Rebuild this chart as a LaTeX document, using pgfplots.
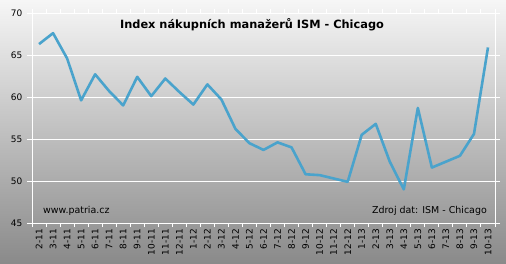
\documentclass[border=0pt]{standalone}
\usepackage{fontspec}
\setmainfont{DejaVu Sans}
\usepackage{pgfplots}
\pgfplotsset{compat=1.18}
\definecolor{topc}{HTML}{F6F6F6}
\definecolor{botc}{HTML}{8A8A8A}
\definecolor{linec}{HTML}{4AA3CC}
\begin{document}
\begin{tikzpicture}[x=1bp,y=1bp]
\path[use as bounding box] (0,0) rectangle (506,263);
\shade[top color=topc,bottom color=botc] (0,0) rectangle (506,263);
\begin{axis}[
  at={(32bp,40bp)}, anchor=south west,
  scale only axis, width=463bp, height=210bp,
  xmin=-0.5, xmax=32.5, ymin=45, ymax=70,
  ytick={45,50,55,60,65,70},
  xtick={0,...,32},
  xticklabels={2-11,3-11,4-11,5-11,6-11,7-11,8-11,9-11,10-11,11-11,12-11,1-12,2-12,3-12,4-12,5-12,6-12,7-12,8-12,9-12,10-12,11-12,12-12,1-13,2-13,3-13,4-13,5-13,6-13,7-13,8-13,9-13,10-13},
  minor xtick={-0.5,0.5,...,32.5},
  major x tick style={draw=none},
  minor tick length=4bp,
  major tick length=5bp,
  tick align=outside,
  tick style={white, line width=1bp},
  ymajorgrids,
  grid style={white, line width=1bp},
  axis line style={white, line width=1bp},
  /pgf/number format/assume math mode=true,
  tick label style={font=\fontsize{9}{10}\selectfont, text=black},
  x tick label style={rotate=90, anchor=east, inner sep=1bp},
  y tick label style={inner sep=4.5bp},
  clip=false,
]
\addplot[linec, line width=2.6bp, line join=round, mark=none] coordinates {
(0,66.3) (1,67.6) (2,64.6) (3,59.6) (4,62.7) (5,60.7) (6,59.0) (7,62.4)
(8,60.1) (9,62.2) (10,60.6) (11,59.1) (12,61.5) (13,59.7) (14,56.2) (15,54.5)
(16,53.7) (17,54.6) (18,54.0) (19,50.8) (20,50.7) (21,50.3) (22,49.9)
(23,55.5) (24,56.8) (25,52.3) (26,49.0) (27,58.7) (28,51.6) (29,52.3)
(30,53.0) (31,55.6) (32,65.9)
};
\end{axis}
\node[font=\bfseries\fontsize{11.4}{13}\selectfont, text=black] at (252,238) {Index nákupních manažerů ISM - Chicago};
\node[font=\fontsize{9.5}{11}\selectfont, anchor=west, text=black, inner sep=0] at (43,52) {www.patria.cz};
\node[font=\fontsize{9.5}{11}\selectfont, anchor=east, text=black, inner sep=0] at (487,52) {Zdroj dat: ISM - Chicago};
\end{tikzpicture}
\end{document}
